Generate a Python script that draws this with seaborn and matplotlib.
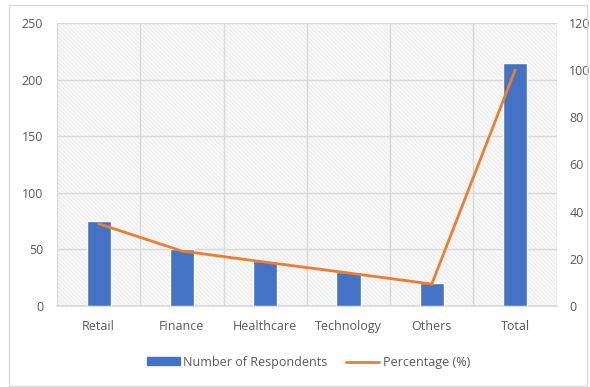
import matplotlib
matplotlib.use("Agg")
import matplotlib.pyplot as plt
import seaborn as sns
import pandas as pd
from matplotlib.patches import Patch, Rectangle
from matplotlib.lines import Line2D

categories = ["Retail", "Finance", "Healthcare", "Technology", "Others", "Total"]
respondents = [75, 50, 40, 30, 20, 215]
percentage = [34.9, 23.3, 18.6, 14.0, 9.3, 100.0]
left_ticks = [0, 50, 100, 150, 200, 250]
right_ticks = [0, 20, 40, 60, 80, 100, 120]

df = pd.DataFrame({"Category": categories, "Respondents": respondents, "Percentage": percentage})

sns.set_theme(style="white")
plt.rcParams["font.family"] = ["Open Sans", "DejaVu Sans"]
plt.rcParams["hatch.linewidth"] = 0.35

BLUE = "#4472C4"
ORANGE = "#ED7D31"
GRID = "#d9d9d9"
TXT = "#595959"

fig = plt.figure(figsize=(5.9, 3.87), dpi=100)
ax = fig.add_axes([0.0966, 0.2093, 0.847, 0.7313])

# outer chart border
fig.patches.append(Rectangle((0.015, 0.003), 0.98, 0.985, transform=fig.transFigure,
                             fill=False, edgecolor="#d9d9d9", linewidth=1))

ax.set_facecolor("white")
bg = Rectangle((0, 0), 1, 1, transform=ax.transAxes, facecolor="#f8f8f8",
               edgecolor="#e2e2e2", hatch="\\\\\\\\\\\\\\\\", linewidth=0, zorder=0)
ax.add_patch(bg)

sns.barplot(data=df, x="Category", y="Respondents", color=BLUE, width=0.29,
            saturation=1, ax=ax, zorder=3)
ax.set_ylim(0, 250)
ax.set_xlim(-0.5, 5.5)
ax.set_yticks(left_ticks)
ax.set_xlabel("")
ax.set_ylabel("")
ax.set_xticks(range(len(categories)))
ax.set_xticks([i - 0.5 for i in range(len(categories) + 1)], minor=True)
ax.grid(axis="y", which="major", color=GRID, linewidth=1, zorder=1)
ax.grid(axis="x", which="minor", color=GRID, linewidth=1, zorder=1)
ax.grid(axis="x", which="major", visible=False)
for s in ["top", "right", "left"]:
    ax.spines[s].set_visible(False)
ax.spines["bottom"].set_color(GRID)
ax.tick_params(axis="both", which="both", length=0, colors=TXT, labelsize=9)
ax.tick_params(axis="x", pad=10)
ax.tick_params(axis="y", pad=10)

ax2 = ax.twinx()
sns.lineplot(data=df, x="Category", y="Percentage", color=ORANGE, linewidth=2,
             ax=ax2, sort=False, legend=False)
ax2.set_ylim(0, 120)
ax2.set_yticks(right_ticks)
ax2.set_ylabel("")
ax2.set_xlim(-0.5, 5.5)
for s in ax2.spines.values():
    s.set_visible(False)
ax2.tick_params(axis="y", length=0, colors=TXT, labelsize=9, pad=9)
ax2.grid(False)

handles = [Patch(facecolor=BLUE, edgecolor=BLUE),
           Line2D([0], [0], color=ORANGE, linewidth=2)]
fig.legend(handles, ["Number of Respondents", "Percentage (%)"], loc="center",
           bbox_to_anchor=(0.523, 0.064), ncol=2, frameon=False, fontsize=9,
           labelcolor=TXT, handlelength=2.6, handleheight=0.6, columnspacing=1.5,
           handletextpad=0.3)

fig.savefig("out.png", dpi=100)
